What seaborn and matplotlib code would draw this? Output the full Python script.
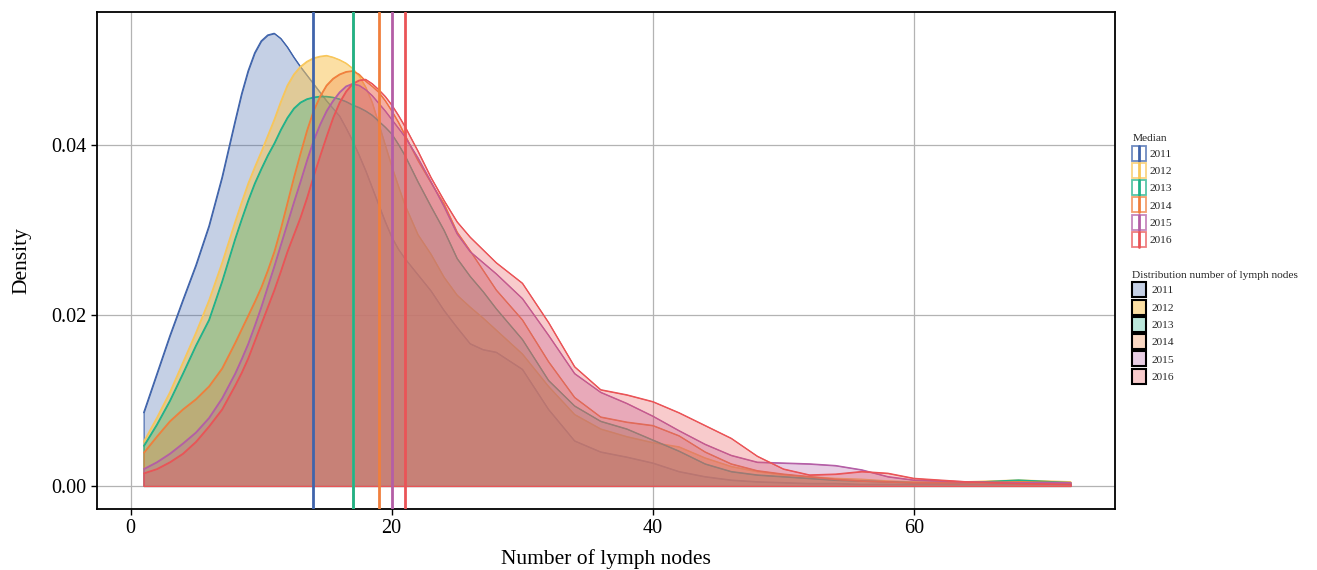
import numpy as np
import pandas as pd
import matplotlib
matplotlib.use("Agg")
import matplotlib.pyplot as plt
import seaborn as sns
from matplotlib.patches import Rectangle
from matplotlib.lines import Line2D
from matplotlib.legend_handler import HandlerBase
from matplotlib.colors import to_rgba

# ---------------- data ----------------
years = ["2011", "2012", "2013", "2014", "2015", "2016"]
medians = [14, 17, 17, 19, 20, 21]

x_grid = ([1, 2, 3, 4, 5, 6, 7, 8]
          + [8.5, 9, 9.5, 10, 10.5, 11, 11.5, 12, 12.5, 13, 13.5, 14, 14.5, 15, 15.5,
             16, 16.5, 17, 17.5, 18, 18.5, 19, 19.5, 20, 20.5]
          + [21, 22, 23, 24, 25, 26, 27, 28]
          + [30, 32, 34, 36, 38, 40, 42, 44, 46, 48, 50, 52, 54, 56, 58, 60]
          + [64, 68, 72])

dens_2011 = [0.0086, 0.0131, 0.0176, 0.0218, 0.0259, 0.0305, 0.0362, 0.0428,
             0.0460, 0.0487, 0.0508, 0.0522, 0.0529, 0.0531, 0.0525, 0.0515, 0.0503, 0.0492,
             0.0482, 0.0472, 0.0462, 0.0452, 0.0443, 0.0434, 0.0420, 0.0405, 0.0388, 0.0370,
             0.0350, 0.0330, 0.0310, 0.0292, 0.0278,
             0.0267, 0.0248, 0.0229, 0.0206, 0.0186, 0.0167, 0.0160, 0.0157,
             0.0137, 0.0090, 0.0053, 0.0040, 0.0034, 0.0027, 0.0017, 0.0011, 0.0007, 0.0005,
             0.0004, 0.0003, 0.0003, 0.0002, 0.0002, 0.0002,
             0.0002, 0.0002, 0.0002]
dens_2012 = [0.0052, 0.0080, 0.0110, 0.0145, 0.0180, 0.0218, 0.0262, 0.0310,
             0.0333, 0.0355, 0.0374, 0.0392, 0.0411, 0.0430, 0.0451, 0.0470, 0.0483, 0.0492,
             0.0498, 0.0502, 0.0504, 0.0505, 0.0503, 0.0500, 0.0496, 0.0490, 0.0481, 0.0468,
             0.0450, 0.0425, 0.0400, 0.0375, 0.0352,
             0.0330, 0.0295, 0.0272, 0.0245, 0.0224, 0.0210, 0.0197, 0.0183,
             0.0155, 0.0117, 0.0084, 0.0067, 0.0058, 0.0051, 0.0046, 0.0033, 0.0023, 0.0017,
             0.0013, 0.0011, 0.0009, 0.0008, 0.0006, 0.0005,
             0.0005, 0.0007, 0.0005]
dens_2013 = [0.0047, 0.0072, 0.0100, 0.0132, 0.0165, 0.0195, 0.0240, 0.0290,
             0.0313, 0.0335, 0.0355, 0.0372, 0.0388, 0.0402, 0.0418, 0.0432, 0.0443, 0.0450,
             0.0454, 0.0456, 0.0457, 0.0457, 0.0456, 0.0454, 0.0451, 0.0447, 0.0444, 0.0440,
             0.0435, 0.0428, 0.0421, 0.0413, 0.0401,
             0.0388, 0.0357, 0.0328, 0.0300, 0.0267, 0.0246, 0.0228, 0.0208,
             0.0172, 0.0124, 0.0094, 0.0076, 0.0067, 0.0054, 0.0041, 0.0026, 0.0017, 0.0013,
             0.0011, 0.0009, 0.0007, 0.0006, 0.0005, 0.0004,
             0.0004, 0.0007, 0.0004]
dens_2014 = [0.0039, 0.0058, 0.0076, 0.0090, 0.0102, 0.0117, 0.0138, 0.0168,
             0.0184, 0.0200, 0.0216, 0.0233, 0.0253, 0.0275, 0.0302, 0.0332, 0.0362, 0.0390,
             0.0417, 0.0440, 0.0457, 0.0470, 0.0478, 0.0483, 0.0486, 0.0487, 0.0483, 0.0475,
             0.0469, 0.0462, 0.0452, 0.0440, 0.0427,
             0.0412, 0.0382, 0.0356, 0.0331, 0.0298, 0.0276, 0.0253, 0.0230,
             0.0195, 0.0146, 0.0104, 0.0081, 0.0075, 0.0071, 0.0059, 0.0040, 0.0026, 0.0018,
             0.0014, 0.0011, 0.0008, 0.0006, 0.0005, 0.0004,
             0.0004, 0.0005, 0.0004]
dens_2015 = [0.0020, 0.0028, 0.0038, 0.0050, 0.0063, 0.0080, 0.0103, 0.0132,
             0.0149, 0.0167, 0.0188, 0.0210, 0.0234, 0.0258, 0.0283, 0.0308, 0.0333, 0.0357,
             0.0382, 0.0405, 0.0424, 0.0440, 0.0452, 0.0462, 0.0469, 0.0472, 0.0470, 0.0465,
             0.0458, 0.0449, 0.0440, 0.0430, 0.0420,
             0.0410, 0.0385, 0.0357, 0.0328, 0.0296, 0.0275, 0.0262, 0.0249,
             0.0220, 0.0177, 0.0132, 0.0110, 0.0097, 0.0082, 0.0065, 0.0049, 0.0036, 0.0028,
             0.0027, 0.0026, 0.0024, 0.0019, 0.0011, 0.0007,
             0.0005, 0.0004, 0.0004]
dens_2016 = [0.0015, 0.0020, 0.0028, 0.0038, 0.0052, 0.0070, 0.0090, 0.0118,
             0.0133, 0.0150, 0.0170, 0.0190, 0.0210, 0.0230, 0.0252, 0.0275, 0.0295, 0.0315,
             0.0338, 0.0363, 0.0387, 0.0410, 0.0432, 0.0450, 0.0463, 0.0472, 0.0476, 0.0477,
             0.0472, 0.0465, 0.0457, 0.0447, 0.0435,
             0.0422, 0.0393, 0.0362, 0.0335, 0.0310, 0.0292, 0.0277, 0.0262,
             0.0238, 0.0192, 0.0140, 0.0113, 0.0107, 0.0099, 0.0086, 0.0071, 0.0056, 0.0035,
             0.0020, 0.0013, 0.0014, 0.0017, 0.0015, 0.0009,
             0.0005, 0.0003, 0.0002]

x_ticks = [0, 20, 40, 60]
x_tick_labels = ["0", "20", "40", "60"]
y_ticks = [0.00, 0.02, 0.04]
y_tick_labels = ["0.00", "0.02", "0.04"]

# ---------------- style ----------------
colors = ["#4064AB", "#F8C65A", "#1FB28A", "#F07F3C", "#B45EA6", "#EA5457"]
fill_alpha = [0.30, 0.55, 0.30, 0.30, 0.30, 0.30]

sns.set_theme(style="white")
plt.rcParams["font.family"] = ["Liberation Serif", "DejaVu Serif"]

all_dens = [dens_2011, dens_2012, dens_2013, dens_2014, dens_2015, dens_2016]
df = pd.concat([pd.DataFrame({"x": x_grid, "density": d, "year": y})
                for y, d in zip(years, all_dens)], ignore_index=True)

fig = plt.figure(figsize=(13.17, 5.70), dpi=100)
ax = fig.add_axes([97 / 1317, 1 - 509 / 570, (1115 - 97) / 1317, (509 - 12) / 570])

for i, (yr, c) in enumerate(zip(years, colors)):
    sub = df[df["year"] == yr]
    ax.fill_between(sub["x"], 0, sub["density"], facecolor=to_rgba(c, fill_alpha[i]),
                    edgecolor=c, linewidth=0.8, zorder=2 + i * 0.1)
    sns.lineplot(data=sub, x="x", y="density", color=c, linewidth=0.9, ax=ax,
                 zorder=2.05 + i * 0.1, legend=False)

for yr, m, c in zip(years, medians, colors):
    ax.axvline(m, color=c, linewidth=2.0, zorder=5)

ax.set_xlim(-2.57, 75.4)
ax.set_ylim(-0.0027, 0.0556)
ax.set_xticks(x_ticks)
ax.set_xticklabels(x_tick_labels)
ax.set_yticks(y_ticks)
ax.set_yticklabels(y_tick_labels)
ax.grid(True, color="#B3B3B3", linewidth=0.9)
ax.set_axisbelow(True)
for s in ax.spines.values():
    s.set_color("black")
    s.set_linewidth(1.3)
ax.tick_params(axis="both", direction="out", length=4, width=1, color="black",
               labelsize=14.5, labelcolor="black", bottom=True, left=True)
ax.set_xlabel("Number of lymph nodes", fontsize=15.5, color="black", labelpad=8)
ax.set_ylabel("Density", fontsize=15.5, color="black", labelpad=14)


class VLineBox(HandlerBase):
    def create_artists(self, legend, orig_handle, xdescent, ydescent, width, height,
                       fontsize, trans):
        c = orig_handle.get_color()
        r = Rectangle((-xdescent, -ydescent), width, height, facecolor="white",
                      edgecolor=to_rgba(c, 0.75), lw=1.3, transform=trans)
        l = Line2D([-xdescent + width / 2] * 2, [-ydescent, -ydescent + height],
                   color=c, lw=2.0, transform=trans)
        return [r, l]


leg_fs = 8.2
med_handles = [Line2D([], [], color=c) for c in colors]
leg1 = fig.legend(med_handles, years, title="Median", loc="upper left",
                  bbox_to_anchor=(1130 / 1317, 1 - 132 / 570), frameon=False,
                  handler_map={Line2D: VLineBox()}, fontsize=leg_fs, title_fontsize=leg_fs,
                  handlelength=1.23, handleheight=1.65, labelspacing=0.2,
                  handletextpad=0.25, alignment="left", borderaxespad=0, borderpad=0.2)

dist_handles = [Rectangle((0, 0), 1, 1, facecolor=to_rgba(c, fill_alpha[i]),
                          edgecolor="black", lw=1.5) for i, c in enumerate(colors)]
leg2 = fig.legend(dist_handles, years, title="Distribution number of lymph nodes",
                  loc="upper left", bbox_to_anchor=(1130 / 1317, 1 - 268 / 570),
                  frameon=False, fontsize=leg_fs, title_fontsize=leg_fs,
                  handlelength=1.23, handleheight=1.65, labelspacing=0.2,
                  handletextpad=0.45, alignment="left", borderaxespad=0, borderpad=0.2)

fig.savefig("out.png", dpi=100)
